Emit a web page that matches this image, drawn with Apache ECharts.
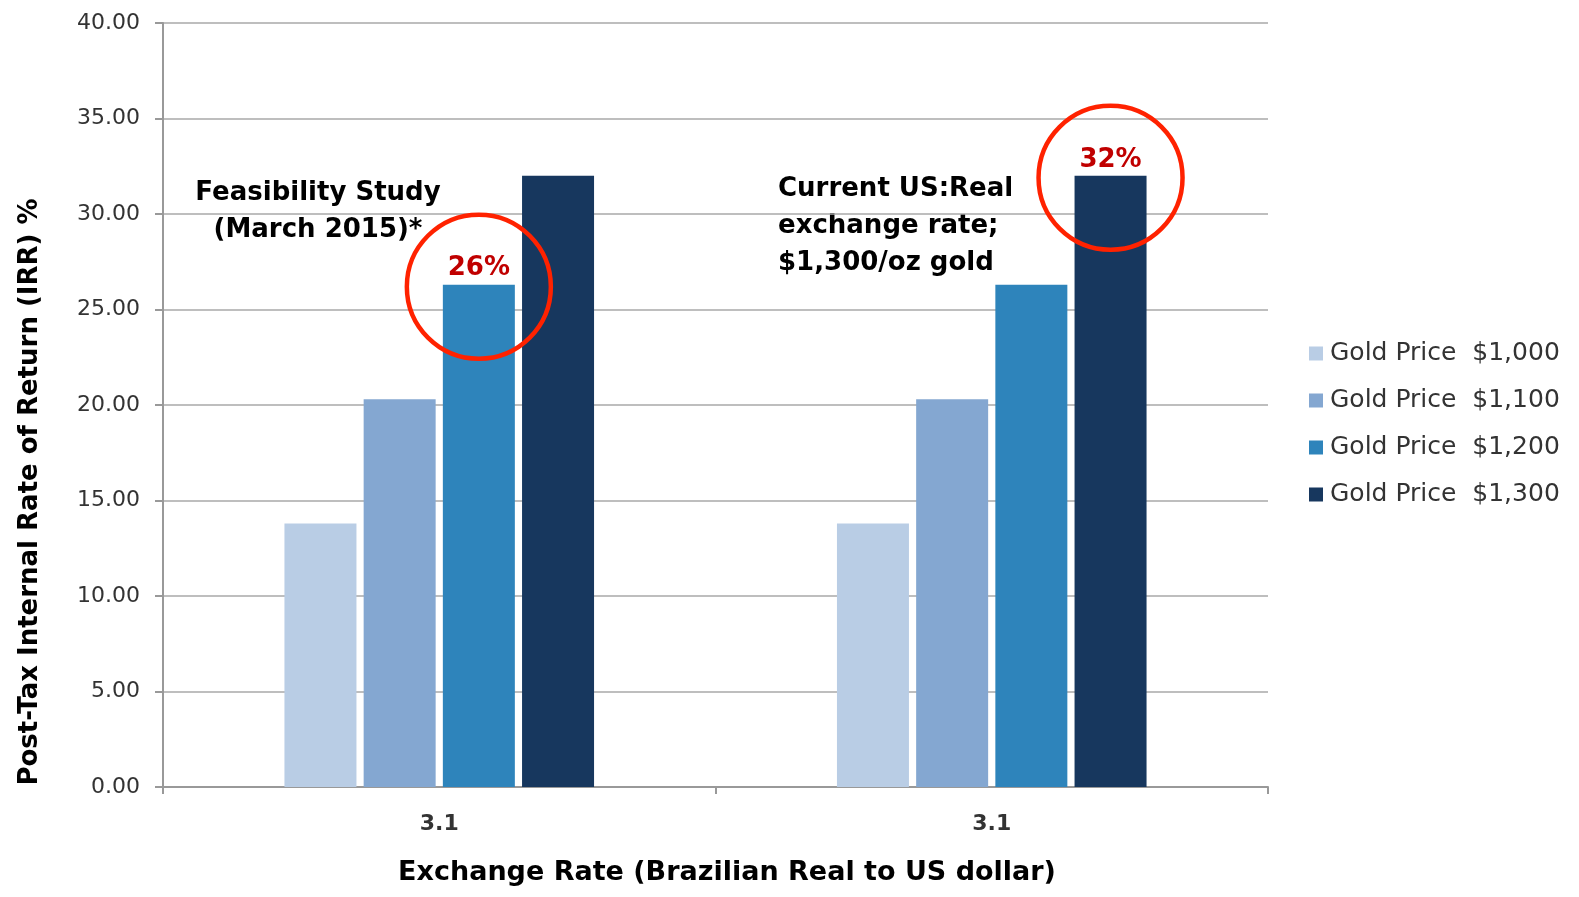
<!DOCTYPE html>
<html>
<head>
<meta charset="utf-8">
<script src="https://cdn.jsdelivr.net/npm/echarts@6/dist/echarts.min.js"></script>
<style>html,body{margin:0;padding:0;background:#fff}#c{width:1579px;height:897px}</style>
</head>
<body>
<div id="c"></div>
<script>
const categories = ['3.1', '3.1'];
const seriesNames = ['Gold Price  $1,000', 'Gold Price  $1,100', 'Gold Price  $1,200', 'Gold Price  $1,300'];
const price1000 = [13.8, 13.8];
const price1100 = [20.3, 20.3];
const price1200 = [26.3, 26.3];
const price1300 = [32.0, 32.0];
const colors = ['#B9CDE5', '#84A7D1', '#2E84BB', '#17375E'];
// highlighted bars: [seriesIndex, categoryIndex, label]
const highlights = [[2, 0, '26%'], [3, 1, '32%']];

const FONT = '"DejaVu Sans", sans-serif';
const allValues = [price1000, price1100, price1200, price1300];

const series = allValues.map((vals, si) => {
  const data = vals.map((v, ci) => {
    const h = highlights.find(x => x[0] === si && x[1] === ci);
    if (h) {
      return {
        value: v,
        label: {
          show: true, position: 'top', distance: 3, formatter: h[2],
          color: '#C00000', fontWeight: 'bold', fontSize: 26, fontFamily: FONT
        }
      };
    }
    return v;
  });
  const marks = highlights.filter(x => x[0] === si).map(x => ({ coord: [x[1], vals[x[1]]] }));
  return {
    name: seriesNames[si],
    type: 'bar',
    data: data,
    barWidth: 72,
    barGap: '10%',
    itemStyle: { color: colors[si] },
    markPoint: marks.length ? {
      symbol: 'circle',
      symbolSize: 144,
      symbolOffset: [0, 2],
      silent: true,
      label: { show: false },
      itemStyle: { color: 'rgba(0,0,0,0)', borderColor: '#FF2200', borderWidth: 4.5 },
      data: marks
    } : undefined
  };
});

const chart = echarts.init(document.getElementById('c'));
chart.setOption({
  animation: false,
  backgroundColor: '#fff',
  grid: { left: 163, right: 311, top: 23, bottom: 110 },
  legend: {
    orient: 'vertical',
    left: 1304,
    top: 336,
    itemWidth: 14,
    itemHeight: 14,
    itemGap: 22,
    icon: 'rect',
    textStyle: { fontSize: 25, lineHeight: 25, color: '#333', fontFamily: FONT, padding: [0, 0, 0, 2] },
    data: seriesNames
  },
  xAxis: {
    type: 'category',
    data: categories,
    axisLine: { lineStyle: { color: '#999', width: 2 } },
    axisTick: { show: true, length: 7, lineStyle: { color: '#999', width: 2 } },
    axisLabel: { margin: 26, fontSize: 22, fontWeight: 'bold', color: '#333', fontFamily: FONT }
  },
  yAxis: {
    type: 'value',
    min: 0, max: 40, interval: 5,
    axisLine: { show: true, lineStyle: { color: '#999', width: 2 } },
    axisTick: { show: true, length: 8, lineStyle: { color: '#999', width: 2 } },
    splitLine: { lineStyle: { color: '#A8A8A8', width: 1.5 } },
    axisLabel: { margin: 23, fontSize: 22, color: '#333', fontFamily: FONT, formatter: v => v.toFixed(2) }
  },
  graphic: [
    {
      type: 'text', x: 727, y: 873,
      style: {
        text: 'Exchange Rate (Brazilian Real to US dollar)',
        font: 'bold 27px ' + FONT, fill: '#000', align: 'center', verticalAlign: 'middle'
      }
    },
    {
      type: 'text', rotation: Math.PI / 2, x: 30, y: 492,
      style: {
        text: 'Post-Tax Internal Rate of Return (IRR) %',
        font: 'bold 26px ' + FONT, fill: '#000', align: 'center', verticalAlign: 'middle'
      }
    },
    {
      type: 'text', x: 318, y: 175,
      style: {
        text: 'Feasibility Study\n(March 2015)*',
        font: 'bold 26px ' + FONT, fill: '#000', align: 'center', verticalAlign: 'top', lineHeight: 37
      }
    },
    {
      type: 'text', x: 778, y: 171,
      style: {
        text: 'Current US:Real\nexchange rate;\n$1,300/oz gold',
        font: 'bold 26px ' + FONT, fill: '#000', align: 'left', verticalAlign: 'top', lineHeight: 37
      }
    }
  ],
  series: series
});
</script>
</body>
</html>
